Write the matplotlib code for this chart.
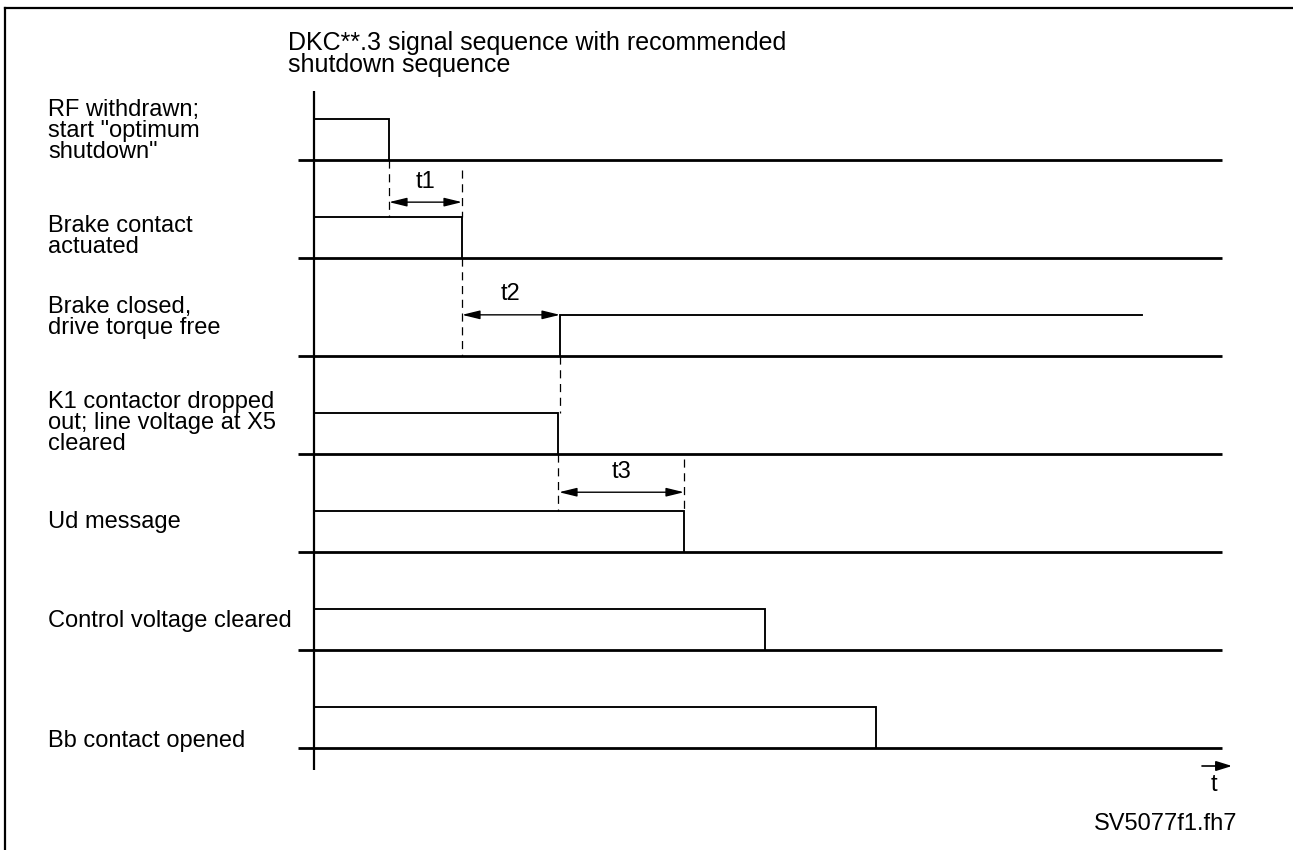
import matplotlib
matplotlib.use("Agg")
import matplotlib.pyplot as plt
from matplotlib.lines import Line2D
from matplotlib.patches import FancyArrowPatch

plt.rcParams['font.family'] = ['Liberation Sans', 'DejaVu Sans']

# ---------------- data ----------------
title_lines = ["DKC**.3 signal sequence with recommended", "shutdown sequence"]
signal_labels = [
    'RF withdrawn;\nstart "optimum\nshutdown"',
    'Brake contact\nactuated',
    'Brake closed,\ndrive torque free',
    'K1 contactor dropped\nout; line voltage at X5\ncleared',
    'Ud message',
    'Control voltage cleared',
    'Bb contact opened',
]
# time at which each signal switches on / off (arbitrary time units)
t_on = [0.0, 0.0, 24.6, 0.0, 0.0, 0.0, 0.0]
t_off = [7.5, 14.8, 82.8, 24.4, 37.0, 45.1, 56.2]
# whether the signal returns to the base level at t_off
falls = [True, True, False, True, True, True, True]

interval_names = ["t1", "t2", "t3"]
interval_start = [7.5, 14.8, 24.5]
interval_end = [14.8, 24.6, 37.0]
interval_row = [0.43, 1.58, 3.39]   # vertical position (rows below top baseline)

footer = "SV5077f1.fh7"

# ---------------- layout ----------------
W, H = 1293, 850
fig = plt.figure(figsize=(W / 100, H / 100), dpi=100)
ax = fig.add_axes([0, 0, 1, 1])
PX_T = 10.0     # pixels per time unit
X0 = 314        # pixel of t = 0
Y0 = 160        # pixel of top baseline
ROW = 98        # pixels per row
ax.set_xlim(-X0 / PX_T, (W - X0) / PX_T)
ax.set_ylim(-(H - Y0) / ROW, Y0 / ROW)
ax.axis('off')

HIGH = 0.42
LW = 1.6
t_end = 90.8
t_start = -1.6

def fx(px):
    return px / W

def fy(py):
    return 1 - py / H

# frame (left and top)
fig.add_artist(Line2D([fx(5), fx(5)], [fy(8), 0], color='black', lw=1.6))
fig.add_artist(Line2D([fx(5), 1], [fy(8), fy(8)], color='black', lw=1.6))

# time axis vertical line
ax.plot([0, 0], [0.704, -6.224], color='black', lw=LW, solid_capstyle='butt')

for i in range(len(signal_labels)):
    base = -i
    ax.plot([t_start, t_end], [base, base], color='black', lw=LW + 0.4, solid_capstyle='butt')
    hi = base + HIGH
    if t_on[i] == 0:
        xs = [t_on[i], t_off[i]]
        ys = [hi, hi]
    else:
        xs = [t_on[i], t_on[i], t_off[i]]
        ys = [base, hi, hi]
    if falls[i]:
        xs = xs + [t_off[i]]
        ys = ys + [base]
    ax.plot(xs, ys, color='black', lw=LW * 0.85, solid_joinstyle='miter')

# dashed guide lines
dash_kw = dict(color='black', lw=0.9, dashes=(6.5, 4.5))
ax.plot([t_off[0], t_off[0]], [0, -1 + HIGH], **dash_kw)
ax.plot([t_off[1], t_off[1]], [-0.1, -1 + HIGH], **dash_kw)
ax.plot([t_off[1], t_off[1]], [-1, -2], **dash_kw)
ax.plot([t_on[2], t_on[2]], [-2, -3 + HIGH], **dash_kw)
ax.plot([t_off[3], t_off[3]], [-3, -4 + HIGH], **dash_kw)
ax.plot([t_off[4], t_off[4]], [-3.05, -4 + HIGH], **dash_kw)

for name, a, b, r in zip(interval_names, interval_start, interval_end, interval_row):
    ax.annotate('', xy=(b, -r), xytext=(a, -r),
                arrowprops=dict(arrowstyle='<|-|>,head_length=0.9,head_width=0.22',
                                color='black', lw=1.0, shrinkA=0, shrinkB=0,
                                mutation_scale=12))
    ax.text((a + b) / 2, -r + 0.21, name, ha='center', va='center', fontsize=17)

# signal labels (baseline of the last line of each label)
label_baselines = [158, 253, 334, 450, 528, 627, 747]
for lab, yb in zip(signal_labels, label_baselines):
    fig.text(fx(48), fy(yb), lab, ha='left', va='baseline', fontsize=17,
             linespacing=0.93)

# title (one two-line text, tight line spacing as in the original)
fig.text(fx(288), fy(72), "\n".join(title_lines), ha='left', va='baseline',
         fontsize=18, linespacing=0.88)

# time arrow
fig.add_artist(FancyArrowPatch(
    (fx(1202), fy(766)), (fx(1232), fy(766)), transform=fig.transFigure,
    arrowstyle='-|>,head_length=0.8,head_width=0.25', mutation_scale=12,
    color='black', lw=1.2, shrinkA=0, shrinkB=0))
fig.text(fx(1214), fy(791), 't', ha='center', va='baseline', fontsize=17)

fig.text(fx(1237), fy(830), footer, ha='right', va='baseline', fontsize=17)

fig.savefig('out.png', dpi=100, facecolor='white')
